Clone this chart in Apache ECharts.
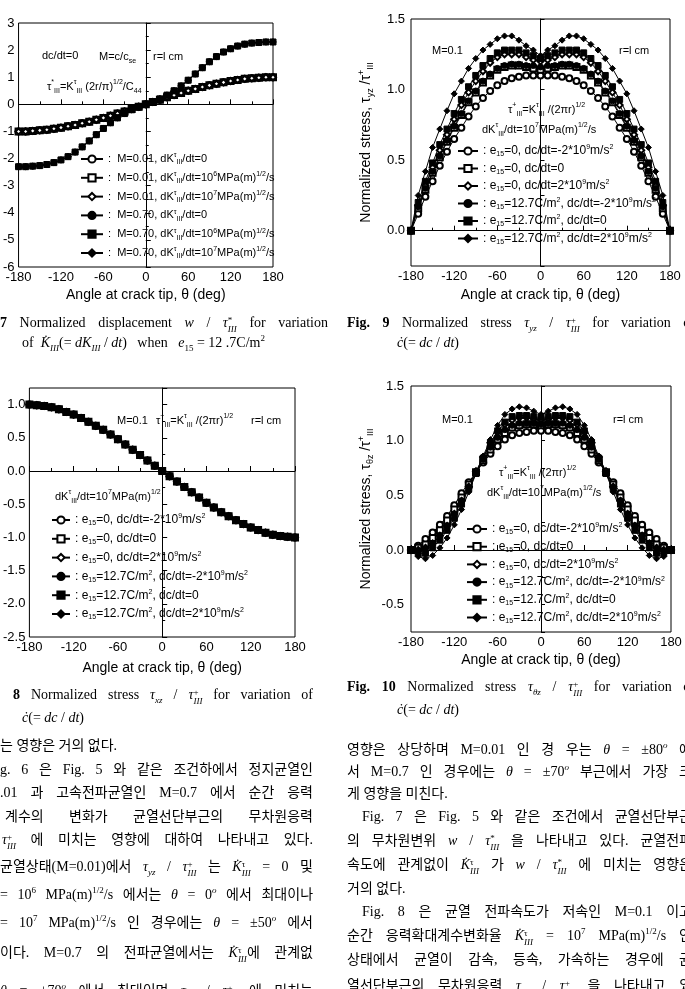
<!DOCTYPE html>
<html>
<head>
<meta charset="utf-8">
<script src="https://cdn.jsdelivr.net/npm/echarts/dist/echarts.min.js"></script>
<style>
body{margin:0;width:685px;height:989px;overflow:hidden;background:#fff;position:relative;
  font-family:"Liberation Serif","Noto Sans CJK KR",serif;font-size:14px;color:#000}
#main{position:absolute;left:0;top:0;width:685px;height:989px}
.t{position:absolute;height:24px;line-height:24px;white-space:nowrap}
.j{text-align:justify;text-align-last:justify;white-space:normal;overflow:hidden}
sup,sub{font-size:9px;line-height:0}
.ss{display:inline-block;vertical-align:-5px;line-height:9px;font-size:9px;text-align:left}
</style>
</head>
<body>
<div id="main"></div>

<!-- captions -->
<div class="t j" style="left:0;top:311px;width:328px"><b>7</b> Normalized displacement <i>w</i> / <i>τ</i><span class="ss">*<br><i>III</i></span> for variation</div>
<div class="t" style="left:22px;top:331px">of &nbsp;<i>K̇</i><sub><i>III</i></sub>(= <i>dK</i><sub><i>III</i></sub> / <i>dt</i>) &nbsp; when &nbsp; <i>e</i><sub>15</sub> = 12 .7C/m<sup>2</sup></div>
<div class="t j" style="left:347px;top:311px;width:348px"><b>Fig. 9</b> Normalized stress <i>τ</i><sub><i>yz</i></sub> / <i>τ</i><span class="ss">+<br><i>III</i></span> for variation of</div>
<div class="t" style="left:397px;top:331px"><i>ċ</i>(= <i>dc</i> / <i>dt</i>)</div>
<div class="t j" style="left:13px;top:683px;width:300px"><b>8</b> Normalized stress <i>τ</i><sub><i>xz</i></sub> / <i>τ</i><span class="ss">+<br><i>III</i></span> for variation of</div>
<div class="t" style="left:22px;top:706px"><i>ċ</i>(= <i>dc</i> / <i>dt</i>)</div>
<div class="t j" style="left:347px;top:675px;width:348px"><b>Fig. 10</b> Normalized stress <i>τ</i><sub><i>θz</i></sub> / <i>τ</i><span class="ss">+<br><i>III</i></span> for variation of</div>
<div class="t" style="left:397px;top:698px"><i>ċ</i>(= <i>dc</i> / <i>dt</i>)</div>

<!-- left column text -->
<div class="t" style="left:0;top:734px">는 영향은 거의 없다.</div>
<div class="t j" style="left:0;top:758px;width:313px">g. 6 은 Fig. 5 와 같은 조건하에서 정지균열인</div>
<div class="t j" style="left:0;top:781px;width:313px">.01 과 고속전파균열인 M=0.7 에서 순간 응력</div>
<div class="t j" style="left:5px;top:805px;width:308px">계수의 변화가 균열선단부근의 무차원응력</div>
<div class="t j" style="left:2px;top:828px;width:311px"><i>τ</i><span class="ss">+<br><i>III</i></span> 에 미치는 영향에 대하여 나타내고 있다.</div>
<div class="t j" style="left:0;top:855px;width:313px">균열상태(M=0.01)에서 <i>τ</i><sub><i>yz</i></sub> / <i>τ</i><span class="ss">+<br><i>III</i></span> 는 <i>K̇</i><span class="ss">τ<br><i>III</i></span> = 0 및</div>
<div class="t j" style="left:0;top:883px;width:313px">= 10<sup>6</sup> MPa(m)<sup>1/2</sup>/s 에서는 <i>θ</i> = 0<sup><i>o</i></sup> 에서 최대이나</div>
<div class="t j" style="left:0;top:911px;width:313px">= 10<sup>7</sup> MPa(m)<sup>1/2</sup>/s 인 경우에는 <i>θ</i> = ±50<sup><i>o</i></sup> 에서</div>
<div class="t j" style="left:0;top:941px;width:313px">이다. M=0.7 의 전파균열에서는 <i>K̇</i><span class="ss">τ<br><i>III</i></span>에 관계없</div>
<div class="t j" style="left:0;top:979px;width:313px"><i>θ</i> = ±70<sup><i>o</i></sup> 에서 최대이며 <i>τ</i><sub><i>yz</i></sub> / <i>τ</i><span class="ss">+<br><i>III</i></span> 에 미치는</div>

<!-- right column text -->
<div class="t j" style="left:347px;top:738px;width:345px">영향은 상당하며 M=0.01 인 경 우는 <i>θ</i> = ±80<sup><i>o</i></sup> 에</div>
<div class="t j" style="left:347px;top:760px;width:345px">서 M=0.7 인 경우에는 <i>θ</i> = ±70<sup><i>o</i></sup> 부근에서 가장 크</div>
<div class="t" style="left:347px;top:782px">게 영향을 미친다.</div>
<div class="t j" style="left:362px;top:805px;width:330px">Fig. 7 은 Fig. 5 와 같은 조건에서 균열선단부근</div>
<div class="t j" style="left:347px;top:829px;width:345px">의 무차원변위 <i>w</i> / <i>τ</i><span class="ss">*<br><i>III</i></span> 을 나타내고 있다. 균열전파</div>
<div class="t j" style="left:347px;top:853px;width:345px">속도에 관계없이 <i>K̇</i><span class="ss">τ<br><i>III</i></span> 가 <i>w</i> / <i>τ</i><span class="ss">*<br><i>III</i></span> 에 미치는 영향은</div>
<div class="t" style="left:347px;top:877px">거의 없다.</div>
<div class="t j" style="left:362px;top:900px;width:330px">Fig. 8 은 균열 전파속도가 저속인 M=0.1 이고</div>
<div class="t j" style="left:347px;top:924px;width:345px">순간 응력확대계수변화율 <i>K̇</i><span class="ss">τ<br><i>III</i></span> = 10<sup>7</sup> MPa(m)<sup>1/2</sup>/s 인</div>
<div class="t j" style="left:347px;top:948px;width:345px">상태에서 균열이 감속, 등속, 가속하는 경우에 균</div>
<div class="t j" style="left:347px;top:974px;width:345px">열선단부근의 무차원응력 <i>τ</i><sub><i>xz</i></sub> / <i>τ</i><span class="ss">+<br><i>III</i></span> 을 나타내고 있</div>

<script>
// angle at crack tip, deg
var THETA = [-180,-170,-160,-150,-140,-130,-120,-110,-100,-90,-80,-70,-60,-50,-40,-30,-20,-10,0,
             10,20,30,40,50,60,70,80,90,100,110,120,130,140,150,160,170,180];

// Fig 7 : w / tau*  (three dK/dt cases overlap for each M)
var F7_M001 = [-1.00,-1.00,-0.98,-0.96,-0.94,-0.90,-0.86,-0.81,-0.76,-0.70,-0.64,-0.57,-0.50,-0.42,-0.34,-0.26,-0.17,-0.09,0.00,
               0.09,0.17,0.26,0.34,0.42,0.50,0.57,0.64,0.70,0.76,0.81,0.86,0.90,0.94,0.96,0.98,1.00,1.00];
var F7_M070 = [-2.30,-2.30,-2.28,-2.26,-2.22,-2.15,-2.05,-1.93,-1.76,-1.57,-1.35,-1.12,-0.89,-0.68,-0.50,-0.34,-0.20,-0.10,0.00,
               0.10,0.20,0.34,0.50,0.68,0.89,1.12,1.35,1.57,1.76,1.93,2.05,2.15,2.22,2.26,2.28,2.30,2.30];

// Fig 8 : tau_xz / tau+  (all six cases overlap)
var F8_TXZ = [1.00,0.99,0.98,0.96,0.93,0.89,0.85,0.80,0.74,0.68,0.62,0.55,0.48,0.40,0.32,0.24,0.16,0.08,0.00,
              -0.08,-0.16,-0.24,-0.32,-0.40,-0.48,-0.55,-0.62,-0.68,-0.74,-0.80,-0.85,-0.89,-0.93,-0.96,-0.98,-0.99,-1.00];

// Fig 9 : tau_yz / tau+
var F9_A = [0.00,0.12,0.24,0.35,0.46,0.56,0.65,0.73,0.81,0.88,0.94,0.99,1.03,1.06,1.08,1.09,1.10,1.10,1.10,1.10,1.10,1.09,1.08,1.06,1.03,0.99,0.94,0.88,0.81,0.73,0.65,0.56,0.46,0.35,0.24,0.12,0.00];
var F9_B = [0.00,0.16,0.29,0.41,0.52,0.63,0.73,0.82,0.91,0.98,1.05,1.10,1.14,1.16,1.17,1.17,1.16,1.15,1.14,1.15,1.16,1.17,1.17,1.16,1.14,1.10,1.05,0.98,0.91,0.82,0.73,0.63,0.52,0.41,0.29,0.16,0.00];
var F9_C = [0.00,0.18,0.32,0.45,0.57,0.68,0.79,0.89,0.98,1.06,1.13,1.19,1.23,1.25,1.25,1.25,1.23,1.21,1.20,1.21,1.23,1.25,1.25,1.25,1.23,1.19,1.13,1.06,0.98,0.89,0.79,0.68,0.57,0.45,0.32,0.18,0.00];
var F9_D = [0.00,0.17,0.30,0.42,0.53,0.64,0.74,0.83,0.92,0.99,1.06,1.11,1.15,1.17,1.18,1.18,1.17,1.17,1.16,1.17,1.17,1.18,1.18,1.17,1.15,1.11,1.06,0.99,0.92,0.83,0.74,0.64,0.53,0.42,0.30,0.17,0.00];
var F9_E = [0.00,0.20,0.35,0.48,0.61,0.72,0.83,0.93,1.02,1.10,1.17,1.22,1.26,1.28,1.28,1.28,1.26,1.24,1.22,1.24,1.26,1.28,1.28,1.28,1.26,1.22,1.17,1.10,1.02,0.93,0.83,0.72,0.61,0.48,0.35,0.20,0.00];
var F9_F = [0.00,0.25,0.42,0.59,0.72,0.85,0.97,1.06,1.15,1.22,1.28,1.32,1.36,1.38,1.38,1.35,1.31,1.28,1.24,1.28,1.31,1.35,1.38,1.38,1.36,1.32,1.28,1.22,1.15,1.06,0.97,0.85,0.72,0.59,0.42,0.25,0.00];

// Fig 10 : tau_thetaz / tau+
var F10_A = [0.00,0.04,0.10,0.16,0.23,0.31,0.41,0.52,0.62,0.71,0.80,0.88,0.95,1.01,1.05,1.07,1.08,1.09,1.09,1.09,1.08,1.07,1.05,1.01,0.95,0.88,0.80,0.71,0.62,0.52,0.41,0.31,0.23,0.16,0.10,0.04,0.00];
var F10_B = [0.00,0.02,0.05,0.11,0.18,0.27,0.37,0.48,0.60,0.71,0.82,0.92,1.01,1.07,1.12,1.14,1.15,1.15,1.14,1.15,1.15,1.14,1.12,1.07,1.01,0.92,0.82,0.71,0.60,0.48,0.37,0.27,0.18,0.11,0.05,0.02,0.00];
var F10_C = [0.00,0.00,0.02,0.06,0.13,0.22,0.33,0.45,0.58,0.72,0.85,0.98,1.08,1.15,1.19,1.21,1.21,1.20,1.19,1.20,1.21,1.21,1.19,1.15,1.08,0.98,0.85,0.72,0.58,0.45,0.33,0.22,0.13,0.06,0.02,0.00,0.00];
var F10_D = [0.00,-0.01,0.01,0.06,0.13,0.22,0.33,0.45,0.57,0.70,0.83,0.94,1.03,1.10,1.14,1.16,1.16,1.16,1.15,1.16,1.16,1.16,1.14,1.10,1.03,0.94,0.83,0.70,0.57,0.45,0.33,0.22,0.13,0.06,0.01,-0.01,0.00];
var F10_E = [0.00,-0.03,-0.03,0.02,0.09,0.18,0.29,0.42,0.56,0.70,0.84,0.98,1.09,1.17,1.22,1.23,1.23,1.22,1.21,1.22,1.23,1.23,1.22,1.17,1.09,0.98,0.84,0.70,0.56,0.42,0.29,0.18,0.09,0.02,-0.03,-0.03,0.00];
var F10_F = [0.00,-0.06,-0.08,-0.05,0.02,0.11,0.23,0.37,0.53,0.70,0.86,1.01,1.14,1.24,1.29,1.31,1.30,1.27,1.24,1.27,1.30,1.31,1.29,1.24,1.14,1.01,0.86,0.70,0.53,0.37,0.23,0.11,0.02,-0.05,-0.08,-0.06,0.00];

var SYMBOLS = ['emptyCircle','emptyRect','emptyDiamond','circle','rect','diamond'];

var LABELS_F7 = [
  ':  M=0.01, dK{sup|τ}{sub|III}/dt=0',
  ':  M=0.01, dK{sup|τ}{sub|III}/dt=10{sup|6}MPa(m){sup|1/2}/s',
  ':  M=0.01, dK{sup|τ}{sub|III}/dt=10{sup|7}MPa(m){sup|1/2}/s',
  ':  M=0.70, dK{sup|τ}{sub|III}/dt=0',
  ':  M=0.70, dK{sup|τ}{sub|III}/dt=10{sup|6}MPa(m){sup|1/2}/s',
  ':  M=0.70, dK{sup|τ}{sub|III}/dt=10{sup|7}MPa(m){sup|1/2}/s'
];
var LABELS_E15 = [
  ': e{sub|15}=0, dc/dt=-2*10{sup|9}m/s{sup|2}',
  ': e{sub|15}=0, dc/dt=0',
  ': e{sub|15}=0, dc/dt=2*10{sup|9}m/s{sup|2}',
  ': e{sub|15}=12.7C/m{sup|2}, dc/dt=-2*10{sup|9}m/s{sup|2}',
  ': e{sub|15}=12.7C/m{sup|2}, dc/dt=0',
  ': e{sub|15}=12.7C/m{sup|2}, dc/dt=2*10{sup|9}m/s{sup|2}'
];

var FONT = 'Liberation Sans';
var RICH_EC = {
  sup: {fontSize: 7, fontFamily: FONT, color: '#000', verticalAlign: 'top', lineHeight: 8},
  sub: {fontSize: 7, fontFamily: FONT, color: '#000', verticalAlign: 'bottom', lineHeight: 8}
};
var RICH_Z = {
  sup: {fontSize: 7, fontFamily: FONT, fill: '#000', verticalAlign: 'top', lineHeight: 8},
  sub: {fontSize: 7, fontFamily: FONT, fill: '#000', verticalAlign: 'bottom', lineHeight: 8}
};

function pairs(ys){
  return THETA.map(function(t, i){ return [t, ys[i]]; });
}
function halfLabel(v){
  if (Math.abs(v * 2 - Math.round(v * 2)) > 1e-6) return '';
  return v.toFixed(1);
}

var chart = echarts.init(document.getElementById('main'));

//  0: fig7   1: fig9   2: fig8   3: fig10
var grids = [
  {left: 17, top: 23, width: 256, height: 244},
  {left: 411, top: 19, width: 259, height: 247},
  {left: 29, top: 388, width: 266, height: 249},
  {left: 411, top: 386, width: 260, height: 246}
];
grids.forEach(function(g){
  g.show = true; g.borderColor = '#000'; g.borderWidth = 1; g.backgroundColor = '#fff';
});

var xAxes = [], yAxes = [];
var xNameGap = [21, 22, 24, 21];
for (var i = 0; i < 4; i++) {
  xAxes.push({
    gridIndex: i, type: 'value', min: -180, max: 180, interval: 60,
    axisLine: {lineStyle: {color: '#000', width: 1}},
    axisTick: {inside: true, length: 5, lineStyle: {color: '#000'}},
    minorTick: {show: true, splitNumber: 2, length: 3, lineStyle: {color: '#000'}},
    splitLine: {show: false},
    axisLabel: {color: '#000', fontSize: 13, fontFamily: FONT, margin: 4},
    name: 'Angle at crack tip, θ (deg)', nameLocation: 'middle', nameGap: xNameGap[i],
    nameTextStyle: {color: '#000', fontSize: 14, fontFamily: FONT}
  });
}
var yBase = {
  type: 'value',
  axisLine: {lineStyle: {color: '#000', width: 1}},
  axisTick: {inside: true, length: 5, lineStyle: {color: '#000'}},
  splitLine: {show: false},
  axisLabel: {color: '#000', fontSize: 13, fontFamily: FONT, margin: 5}
};
var nameRich = {
  sub: {fontSize: 9, fontFamily: FONT, color: '#000', verticalAlign: 'bottom', lineHeight: 10},
  sup: {fontSize: 9, fontFamily: FONT, color: '#000', verticalAlign: 'top', lineHeight: 10}
};
yAxes.push(Object.assign({}, yBase, {gridIndex: 0, min: -6, max: 3, interval: 1,
  minorTick: {show: true, splitNumber: 2, length: 3, lineStyle: {color: '#000'}},
  axisLabel: Object.assign({}, yBase.axisLabel, {margin: 4})}));
yAxes.push(Object.assign({}, yBase, {gridIndex: 1, min: -0.25, max: 1.5, interval: 0.25,
  axisTick: {inside: true, length: 4, lineStyle: {color: '#000'}},
  axisLabel: Object.assign({}, yBase.axisLabel, {formatter: halfLabel, margin: 6}),
  name: 'Normalized stress, τ{sub|yz} /τ{sup|+}{sub|III}', nameLocation: 'middle', nameGap: 36,
  nameTextStyle: {color: '#000', fontSize: 14, fontFamily: FONT, lineHeight: 18, rich: nameRich}}));
yAxes.push(Object.assign({}, yBase, {gridIndex: 2, min: -2.5, max: 1.25, interval: 0.5,
  minorTick: {show: true, splitNumber: 2, length: 3, lineStyle: {color: '#000'}},
  axisLabel: Object.assign({}, yBase.axisLabel, {formatter: halfLabel, margin: 4})}));
yAxes.push(Object.assign({}, yBase, {gridIndex: 3, min: -0.75, max: 1.5, interval: 0.25,
  axisTick: {inside: true, length: 4, lineStyle: {color: '#000'}},
  axisLabel: Object.assign({}, yBase.axisLabel, {formatter: halfLabel, margin: 7}),
  name: 'Normalized stress, τ{sub|θz} /τ{sup|+}{sub|III}', nameLocation: 'middle', nameGap: 36,
  nameTextStyle: {color: '#000', fontSize: 14, fontFamily: FONT, lineHeight: 18, rich: nameRich}}));

var series = [];
var labelOf = {};
function addFig(g, key, lists, labels){
  var names = [];
  lists.forEach(function(ys, k){
    var nm = key + '_' + k;
    names.push(nm);
    labelOf[nm] = labels[k];
    series.push({
      name: nm, type: 'line', xAxisIndex: g, yAxisIndex: g,
      data: pairs(ys), symbol: SYMBOLS[k], symbolSize: 6, showSymbol: true,
      lineStyle: {color: '#000', width: 1},
      itemStyle: {color: '#000', borderColor: '#000', borderWidth: 1},
      emphasis: {disabled: true}, animation: false
    });
  });
  return names;
}
var n7 = addFig(0, 'f7', [F7_M001, F7_M001, F7_M001, F7_M070, F7_M070, F7_M070], LABELS_F7);
var n9 = addFig(1, 'f9', [F9_A, F9_B, F9_C, F9_D, F9_E, F9_F], LABELS_E15);
var n8 = addFig(2, 'f8', [F8_TXZ, F8_TXZ, F8_TXZ, F8_TXZ, F8_TXZ, F8_TXZ], LABELS_E15);
var n10 = addFig(3, 'f10', [F10_A, F10_B, F10_C, F10_D, F10_E, F10_F], LABELS_E15);

function legend(names, left, top, w, gap, size){
  return {
    data: names, orient: 'vertical', left: left, top: top, padding: 0,
    itemWidth: w, itemHeight: 9, itemGap: gap, selectedMode: false,
    formatter: function(n){ return labelOf[n]; },
    textStyle: {color: '#000', fontSize: size, fontFamily: FONT, lineHeight: 14, rich: RICH_EC}
  };
}

function note(x, y, t){
  return {type: 'text', x: x, y: y, z: 10,
    style: {text: t, fill: '#000', fontSize: 11, fontFamily: FONT, lineHeight: 16,
            align: 'left', verticalAlign: 'middle', rich: RICH_Z}};
}
var TAU_PLUS = 'τ{sup|+}{sub|III}=K{sup|τ}{sub|III} /(2πr){sup|1/2}';

chart.setOption({
  animation: false,
  grid: grids,
  xAxis: xAxes,
  yAxis: yAxes,
  legend: [
    legend(n7, 80, 152, 22, 4.8, 11),
    legend(n9, 457, 144, 20, 3.5, 12),
    legend(n8, 51, 513, 18, 4.8, 12),
    legend(n10, 466, 522, 20, 3.7, 12)
  ],
  series: series,
  graphic: [
    note(42, 56, 'dc/dt=0'),
    note(99, 57, 'M=c/c{sub|se}'),
    note(153, 57, 'r=l cm'),
    note(47, 87, 'τ{sup|*}{sub|III}=K{sup|τ}{sub|III} (2r/π){sup|1/2}/C{sub|44}'),
    note(432, 51, 'M=0.1'),
    note(619, 51, 'r=l cm'),
    note(508, 110, TAU_PLUS),
    note(482, 130, 'dK{sup|τ}{sub|III}/dt=10{sup|7}MPa(m){sup|1/2}/s'),
    note(117, 421, 'M=0.1'),
    note(156, 421, TAU_PLUS),
    note(251, 421, 'r=l cm'),
    note(55, 497, 'dK{sup|τ}{sub|III}/dt=10{sup|7}MPa(m){sup|1/2}'),
    note(442, 420, 'M=0.1'),
    note(613, 420, 'r=l cm'),
    note(499, 473, TAU_PLUS),
    note(487, 493, 'dK{sup|τ}{sub|III}/dt=10{sup|7}MPa(m){sup|1/2}/s')
  ]
});
</script>
</body>
</html>
